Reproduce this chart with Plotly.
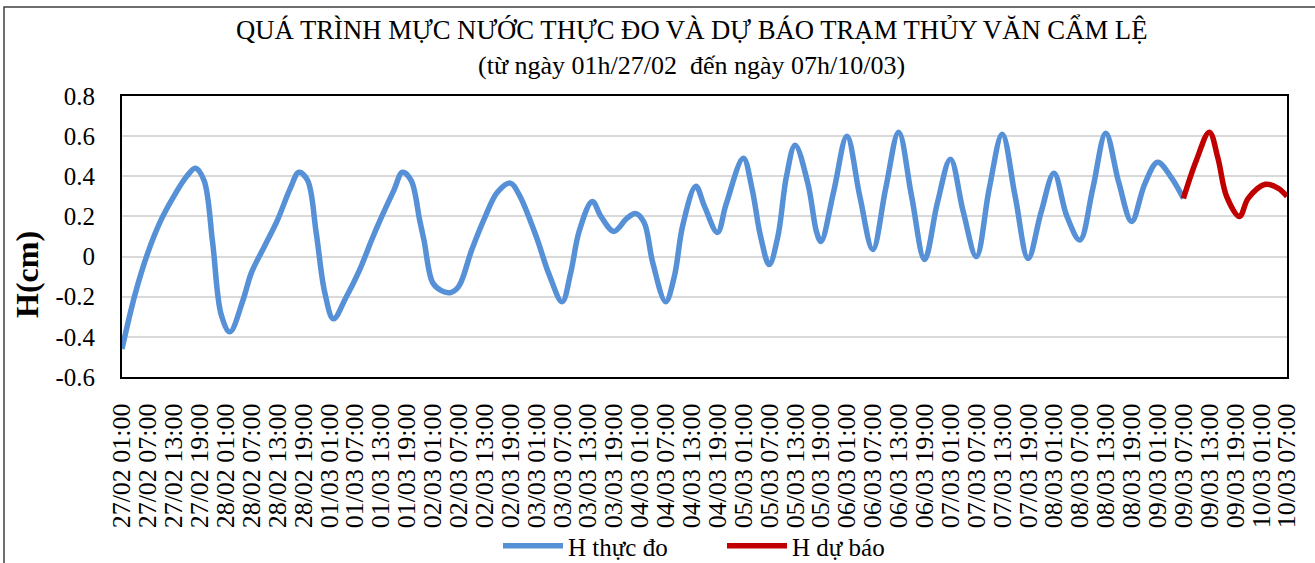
import pandas as pd
import plotly.graph_objects as go

# ---- data (hours counted from 27/02 01:00) ----
start_time = "2023-02-27 01:00"
end_time = "2023-03-10 07:00"

observed_hours = [0, 3, 6, 9, 12, 15, 17, 19, 21, 23, 25, 28, 30, 33, 36, 39, 41, 43, 45, 47,
                  49, 52, 55, 58, 60, 63, 65, 67, 69, 70, 72, 74, 76, 78, 81, 84, 87, 90, 92, 96,
                  99, 102, 104, 106, 109, 111, 114, 117, 119, 121, 123, 126, 128, 130, 133, 135, 138, 140, 144, 146,
                  148, 150, 152, 154, 156, 159, 161, 162, 165, 168, 171, 174, 177, 180, 183, 186, 189, 192, 195, 198,
                  201, 204, 207, 210, 213, 216, 219, 222, 225, 228, 231, 234, 237, 240, 243, 246]
observed_values = [-0.46, -0.19, 0.02, 0.18, 0.30, 0.40, 0.44, 0.38, 0.07, -0.29, -0.375, -0.22, -0.08, 0.05, 0.18, 0.34, 0.42, 0.38, 0.12, -0.18,
                   -0.31, -0.20, -0.07, 0.09, 0.19, 0.33, 0.42, 0.38, 0.18, 0.08, -0.13, -0.17, -0.18, -0.15, 0.03, 0.19, 0.32, 0.366, 0.31, 0.10,
                   -0.09, -0.225, -0.08, 0.13, 0.275, 0.20, 0.125, 0.19, 0.215, 0.17, -0.03, -0.225, -0.10, 0.16, 0.35, 0.25, 0.12, 0.26, 0.49, 0.34,
                   0.10, -0.04, 0.10, 0.40, 0.555, 0.36, 0.12, 0.075, 0.33, 0.60, 0.30, 0.035, 0.34, 0.62, 0.30, -0.015, 0.27, 0.485, 0.22, 0.00,
                   0.34, 0.61, 0.30, -0.01, 0.22, 0.415, 0.20, 0.083, 0.34, 0.615, 0.37, 0.175, 0.36, 0.47, 0.40, 0.29]

forecast_hours = [246, 249, 252, 254, 256, 259, 261, 265, 268, 270]
forecast_values = [0.29, 0.48, 0.62, 0.49, 0.30, 0.20, 0.29, 0.36, 0.34, 0.30]

y_tick_values = [-0.6, -0.4, -0.2, 0, 0.2, 0.4, 0.6, 0.8]
y_tick_labels = ["-0.6", "-0.4", "-0.2", "0", "0.2", "0.4", "0.6", "0.8"]

title_line1 = "QUÁ TRÌNH MỰC NƯỚC THỰC ĐO VÀ DỰ BÁO TRẠM THỦY VĂN CẨM LỆ"
title_line2 = "(từ ngày 01h/27/02  đến ngày 07h/10/03)"
y_title = "H(cm)"
name_observed = "H thực đo"
name_forecast = "H dự báo"

t0 = pd.Timestamp(start_time)
x_obs = t0 + pd.to_timedelta(observed_hours, unit="h")
x_fc = t0 + pd.to_timedelta(forecast_hours, unit="h")

W, H = 1315, 563
L, R, T, B = 122, 1287, 96, 377
def fx(px):
    return (px - L) / (R - L)
def fy(py):
    return (B - py) / (B - T)

FONT = "Liberation Serif, Times New Roman, serif"

fig = go.Figure()
fig.add_trace(go.Scatter(x=x_obs, y=observed_values, mode="lines", name=name_observed,
                         line=dict(color="#5690D6", width=5.5, shape="spline", smoothing=1.0)))
fig.add_trace(go.Scatter(x=x_fc, y=forecast_values, mode="lines", name=name_forecast,
                         line=dict(color="#C00000", width=5.5, shape="spline", smoothing=1.0)))

fig.update_layout(
    width=W, height=H,
    margin=dict(l=L, r=W - R, t=T, b=H - B, pad=0, autoexpand=False),
    paper_bgcolor="white", plot_bgcolor="white",
    font=dict(family=FONT, color="black"),
    showlegend=True,
    legend=dict(orientation="h", x=fx(498), xanchor="left", y=fy(546), yanchor="middle",
                font=dict(size=25, family=FONT, color="black"),
                entrywidth=149, entrywidthmode="pixels", bgcolor="rgba(0,0,0,0)",
                itemwidth=60, tracegroupgap=0, borderwidth=0),
    xaxis=dict(type="date", range=[start_time, end_time], automargin=False,
               tick0=start_time, dtick=6 * 3600 * 1000, tickformat="%d/%m %H:%M",
               tickangle=-90, tickfont=dict(size=26, family=FONT, color="black"),
               showgrid=False, zeroline=False, ticks="", ticklabelstandoff=14,
               showline=True, linecolor="black", linewidth=2, mirror=True),
    yaxis=dict(range=[-0.6, 0.8], tickmode="array", tickvals=y_tick_values, ticktext=y_tick_labels,
               automargin=False,
               tickfont=dict(size=25, family=FONT, color="black"),
               showgrid=True, gridcolor="#D9D9D9", gridwidth=2, zeroline=False, ticks="",
               ticklabelstandoff=20,
               showline=True, linecolor="black", linewidth=2, mirror=True),
)

fig.add_annotation(text=title_line1, xref="paper", yref="paper", x=fx(691), y=fy(29),
                   xanchor="center", yanchor="middle", showarrow=False,
                   font=dict(size=26.7, family=FONT, color="black"))
fig.add_annotation(text=title_line2, xref="paper", yref="paper", x=fx(691), y=fy(65),
                   xanchor="center", yanchor="middle", showarrow=False,
                   font=dict(size=26, family=FONT, color="black"))
fig.add_annotation(text="<b>" + y_title + "</b>", xref="paper", yref="paper", x=fx(27), y=fy(275),
                   xanchor="center", yanchor="middle", showarrow=False, textangle=-90,
                   font=dict(size=32, family=FONT, color="black"))

# outer chart border
fig.add_shape(type="rect", xref="paper", yref="paper", x0=fx(4), x1=fx(1322), y0=fy(575), y1=fy(7),
              line=dict(color="#404040", width=1.5), layer="below")

fig.write_html("out.html", config={"displayModeBar": False},
               post_script="document.body.style.margin='0';")
